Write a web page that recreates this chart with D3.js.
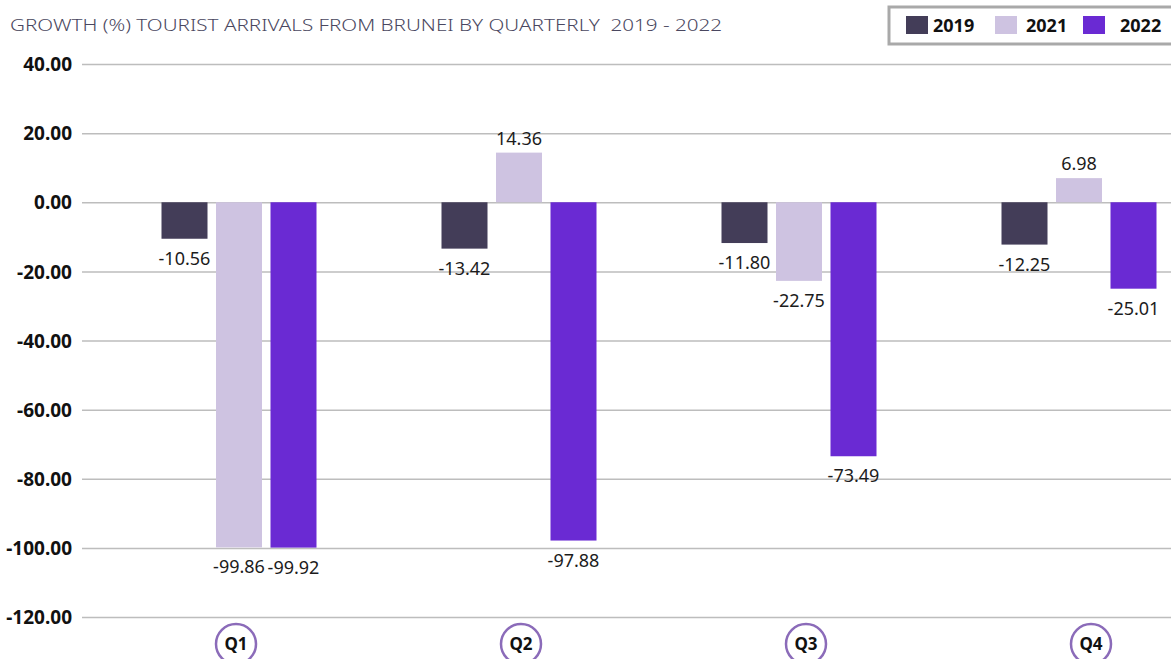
<!DOCTYPE html>
<html>
<head>
<meta charset="utf-8">
<script src="https://cdn.jsdelivr.net/npm/d3@7"></script>
<style>
body{margin:0;background:#fff;}
svg{display:block;}
.title{font-family:"Noto Sans",sans-serif;font-weight:300;font-size:17px;fill:#4a4760;white-space:pre;}
.tick text{font-family:"Noto Sans",sans-serif;font-weight:700;font-size:19px;fill:#111;}
.tick line{stroke:#bdbdbd;stroke-width:1.5;}
.val{font-family:"Noto Sans",sans-serif;font-size:18px;fill:#1c1c1c;}
.leg{font-family:"Noto Sans",sans-serif;font-weight:700;font-size:18px;fill:#111;}
.qlab{font-family:"Noto Sans",sans-serif;font-weight:700;font-size:17px;fill:#111;}
</style>
</head>
<body>
<svg id="chart"></svg>
<script>
var quarters=["Q1","Q2","Q3","Q4"]
var years=["2019","2021","2022"]
var growth2019=[-10.56,-13.42,-11.80,-12.25]
var growth2021=[-99.86,14.36,-22.75,6.98]
var growth2022=[-99.92,-97.88,-73.49,-25.01]
var yTicks=[40,20,0,-20,-40,-60,-80,-100,-120]
var colors=["#433d58","#cec3e1","#6a2ad3"]

// plain hyphen for negatives, like the original
var fmt=function(v){return v.toFixed(2)}

var initChart=function()
    {
        var screen={width:1171,height:659}
        var svg=d3.select("#chart")
            .attr("width",screen.width)
            .attr("height",screen.height)

        var series=[growth2019,growth2021,growth2022]
        var rows=[]
        quarters.forEach(function(q,i)
            {
                years.forEach(function(y,j)
                    {
                        rows.push({quarter:q,year:y,value:series[j][i]})
                    })
            })

        var yScale=d3.scaleLinear()
            .domain([-120,40])
            .range([617,64])
        var xScale=d3.scaleBand()
            .domain(quarters)
            .range([99,1219])
        var x1Scale=d3.scaleBand()
            .domain(years)
            .range([0,155])
            .paddingInner(0.156)
        var labelScale=d3.scalePoint()
            .domain(quarters)
            .range([236,1091])
        var colorScale=d3.scaleOrdinal()
            .domain(years)
            .range(colors)

        drawAxes(svg,yScale)
        drawBars(svg,rows,xScale,x1Scale,yScale,colorScale)
        drawQuarters(svg,labelScale)
        drawLegend(svg,colorScale)
        svg.append("text")
            .classed("title",true)
            .attr("x",10)
            .attr("y",31)
            .attr("textLength",712)
            .attr("lengthAdjust","spacingAndGlyphs")
            .text("GROWTH (%) TOURIST ARRIVALS FROM BRUNEI BY QUARTERLY  2019 - 2022")
    }

var drawAxes=function(svg,yScale)
    {
        var yAxis=d3.axisLeft(yScale)
            .tickValues(yTicks)
            .tickFormat(fmt)
            .tickSize(-(1171-82))
            .tickPadding(10)
        var g=svg.append("g")
            .attr("transform","translate(82,0)")
            .call(yAxis)
        g.select(".domain").remove()
        g.selectAll(".tick text").attr("dy","0.35em")
    }

var drawBars=function(svg,rows,xScale,x1Scale,yScale,colorScale)
    {
        var bars=svg.append("g")
        var off=function(d)
            {
                return xScale(d.quarter)+xScale.bandwidth()/2-77.5+x1Scale(d.year)
            }
        bars.selectAll("rect")
            .data(rows)
            .enter()
            .append("rect")
            .attr("x",off)
            .attr("y",function(d){return yScale(Math.max(0,d.value))})
            .attr("width",x1Scale.bandwidth())
            .attr("height",function(d){return Math.abs(yScale(d.value)-yScale(0))})
            .attr("fill",function(d){return colorScale(d.year)})
        bars.selectAll("text")
            .data(rows)
            .enter()
            .append("text")
            .classed("val",true)
            .attr("text-anchor","middle")
            .attr("x",function(d){return off(d)+x1Scale.bandwidth()/2})
            .attr("y",function(d)
                {
                    return d.value<0 ? yScale(d.value)+26 : yScale(d.value)-8
                })
            .text(function(d){return fmt(d.value)})
    }

var drawQuarters=function(svg,labelScale)
    {
        var g=svg.append("g")
            .selectAll("g")
            .data(quarters)
            .enter()
            .append("g")
            .attr("transform",function(q){return "translate("+labelScale(q)+",644)"})
        g.append("circle")
            .attr("r",20)
            .attr("fill","#fff")
            .attr("stroke","#8b6bb9")
            .attr("stroke-width",2.5)
        g.append("text")
            .classed("qlab",true)
            .attr("text-anchor","middle")
            .attr("dy","0.35em")
            .text(function(q){return q})
    }

var drawLegend=function(svg,colorScale)
    {
        var legend=svg.append("g")
        legend.append("rect")
            .attr("x",889)
            .attr("y",7)
            .attr("width",300)
            .attr("height",37)
            .attr("fill","#fff")
            .attr("stroke","#a9a9a9")
            .attr("stroke-width",3)
        var xs=[906,995,1083]
        var tx=[933,1026,1120]
        years.forEach(function(y,i)
            {
                legend.append("rect")
                    .attr("x",xs[i])
                    .attr("y",16)
                    .attr("width",22)
                    .attr("height",18)
                    .attr("fill",colorScale(y))
                legend.append("text")
                    .classed("leg",true)
                    .attr("x",tx[i])
                    .attr("y",32)
                    .text(y)
            })
    }

initChart()
</script>
</body>
</html>
